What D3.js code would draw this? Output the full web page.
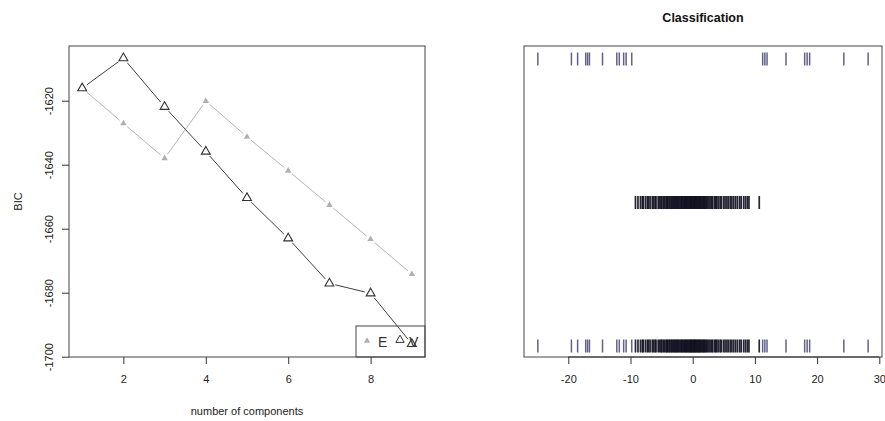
<!DOCTYPE html>
<html>
<head>
<meta charset="utf-8">
<script src="https://cdn.jsdelivr.net/npm/d3@7"></script>
<style>
  html, body { margin: 0; padding: 0; background: #fff; }
  svg { display: block; font-family: "Liberation Sans", Arial, sans-serif; }
</style>
</head>
<body>
<svg id="chart" width="885" height="421"></svg>
<script>
// ---------- data ----------
const components = [1, 2, 3, 4, 5, 6, 7, 8, 9];
const bicE = [-1616.1, -1627.1, -1638.0, -1620.1, -1631.3, -1641.9, -1652.6, -1663.3, -1674.2];
const bicV = [-1616.1, -1606.7, -1621.9, -1635.9, -1650.4, -1663.0, -1677.1, -1680.2, -1696.0];
const bicXTicks = [2, 4, 6, 8];
const bicYTicks = [-1700, -1680, -1660, -1640, -1620];
const legendLabels = ["E", "V"];

const class1Values = [-24.9, -19.5, -18.5, -17.2, -16.9, -16.6, -14.5, -12.2, -11.8, -11.1, -10.7, -9.8,
  11.25, 11.6, 11.95, 15.0, 18.0, 18.4, 18.8, 24.3, 28.2];
const class2Values = [-9.2, -8.8, -8.4, -8.1, -7.95, -7.6, -7.3, -7.1, -6.85, -6.5, -6.3, -6.05, -5.9,
  -5.55, -5.3, -5.1, -4.95, -4.7, -4.55, -4.3, -4.15, -4.0, -3.8, -3.65, -3.45, -3.3, -3.1, -2.95,
  -2.8, -2.6, -2.5, -2.3, -2.15, -1.95, -1.8, -1.7, -1.5, -1.35, -1.2, -1.05, -0.9, -0.75, -0.6,
  -0.45, -0.3, -0.2, -0.05, 0.1, 0.25, 0.35, 0.5, 0.65, 0.8, 0.95, 1.1, 1.2, 1.4, 1.55, 1.7, 1.85,
  2.0, 2.2, 2.35, 2.6, 2.8, 3.05, 3.2, 3.5, 3.7, 3.85, 4.1, 4.4, 4.6, 4.95, 5.2, 5.5, 5.75, 6.05,
  6.3, 6.6, 6.9, 7.2, 7.55, 7.8, 8.2, 8.5, 8.8, 9.05, 10.7];
const classXTicks = [-20, -10, 0, 10, 20, 30];
const classTitle = "Classification";

// ---------- setup ----------
const svg = d3.select("#chart");
const axisCol = "#333";
const fontSize = 11;

// ===== Left panel: BIC =====
const L = { left: 69, right: 425, top: 46, bottom: 357 };
const xL = d3.scaleLinear().domain([0.68, 9.32]).range([L.left, L.right]);
const yL = d3.scaleLinear().domain([-1700, -1620]).range([356.7, 100.7]);

const gL = svg.append("g");

gL.append("rect").attr("x", L.left).attr("y", L.top)
  .attr("width", L.right - L.left).attr("height", L.bottom - L.top)
  .attr("fill", "none").attr("stroke", "#444").attr("stroke-width", 1);

const xAxisL = d3.axisBottom(xL).tickValues(bicXTicks).tickSize(7).tickPadding(11).tickFormat(d3.format("d"));
const gxL = gL.append("g").attr("transform", `translate(0,${L.bottom})`).call(xAxisL);
gxL.select(".domain").remove();
gxL.selectAll("line").attr("stroke", axisCol);
gxL.selectAll("text").attr("font-size", fontSize).attr("fill", "#222")
  .attr("font-family", "Liberation Sans, Arial, sans-serif");

const yAxisL = d3.axisLeft(yL).tickValues(bicYTicks).tickSize(7).tickFormat(d3.format("d"));
const gyL = gL.append("g").attr("transform", `translate(${L.left},0)`).call(yAxisL);
gyL.select(".domain").remove();
gyL.selectAll("line").attr("stroke", axisCol);
gyL.selectAll("text").remove();
gyL.selectAll(".tick").append("text")
  .attr("transform", "translate(-20,0) rotate(-90)")
  .attr("text-anchor", "middle").attr("dy", "0.35em")
  .attr("font-size", fontSize).attr("fill", "#222")
  .attr("font-family", "Liberation Sans, Arial, sans-serif")
  .text(d => d3.format("d")(d).replace("−", "-"));

gL.append("text").attr("x", (L.left + L.right) / 2).attr("y", 415)
  .attr("text-anchor", "middle").attr("font-size", fontSize).attr("fill", "#222")
  .text("number of components");
gL.append("text").attr("transform", `translate(22,${(L.top + L.bottom) / 2}) rotate(-90)`)
  .attr("text-anchor", "middle").attr("font-size", fontSize).attr("fill", "#222")
  .text("BIC");

const lg = gL.append("g");
lg.append("rect").attr("x", 356).attr("y", 326).attr("width", L.right - 356).attr("height", L.bottom - 326)
  .attr("fill", "none").attr("stroke", "#444");

function gappedSegments(vals, gap) {
  const segs = [];
  for (let i = 0; i < vals.length - 1; i++) {
    const x1 = xL(components[i]), y1 = yL(vals[i]);
    const x2 = xL(components[i + 1]), y2 = yL(vals[i + 1]);
    const dx = x2 - x1, dy = y2 - y1, len = Math.hypot(dx, dy);
    if (len <= 2 * gap) continue;
    const ux = dx / len, uy = dy / len;
    segs.push([x1 + ux * gap, y1 + uy * gap, x2 - ux * gap, y2 - uy * gap]);
  }
  return segs;
}

const triUp = d3.symbol().type(d3.symbolTriangle);

// E series
gL.append("g").selectAll("line").data(gappedSegments(bicE, 5)).join("line")
  .attr("x1", d => d[0]).attr("y1", d => d[1]).attr("x2", d => d[2]).attr("y2", d => d[3])
  .attr("stroke", "#b5b5b5").attr("stroke-width", 1);
gL.append("g").selectAll("path").data(bicE.slice(1)).join("path")
  .attr("d", triUp.size(18)())
  .attr("transform", (d, i) => `translate(${xL(components[i + 1])},${yL(d)})`)
  .attr("fill", "#b0b0b0");

// V series
gL.append("g").selectAll("line").data(gappedSegments(bicV, 6)).join("line")
  .attr("x1", d => d[0]).attr("y1", d => d[1]).attr("x2", d => d[2]).attr("y2", d => d[3])
  .attr("stroke", "#404040").attr("stroke-width", 1);
gL.append("g").selectAll("path").data(bicV).join("path")
  .attr("d", triUp.size(34)())
  .attr("transform", (d, i) => `translate(${xL(components[i])},${yL(d)})`)
  .attr("fill", "none").attr("stroke", "#333").attr("stroke-width", 1.1);

lg.append("path").attr("d", triUp.size(18)()).attr("transform", "translate(367,341)").attr("fill", "#b0b0b0");
lg.append("text").attr("x", 378).attr("y", 347).attr("font-size", 14).attr("fill", "#333").text(legendLabels[0]);
lg.append("path").attr("d", triUp.size(30)()).attr("transform", "translate(400,340)")
  .attr("fill", "none").attr("stroke", "#333").attr("stroke-width", 1);
lg.append("text").attr("x", 409).attr("y", 347).attr("font-size", 14).attr("fill", "#333").text(legendLabels[1]);

// ===== Right panel: Classification =====
const R = { left: 524, right: 882, top: 46, bottom: 357 };
const xR = d3.scaleLinear().domain([-20, 30]).range([568.3, 879.3]);
const yR = d3.scaleLinear().domain([0, 2]).range([346, 59]);

const gR = svg.append("g");
gR.append("rect").attr("x", R.left).attr("y", R.top)
  .attr("width", R.right - R.left).attr("height", R.bottom - R.top)
  .attr("fill", "none").attr("stroke", "#444").attr("stroke-width", 1);

const xAxisR = d3.axisBottom(xR).tickValues(classXTicks).tickSize(7).tickPadding(11).tickFormat(d3.format("d"));
const gxR = gR.append("g").attr("transform", `translate(0,${R.bottom})`).call(xAxisR);
gxR.select(".domain").attr("d", `M${xR(-20)},0H${xR(30)}`).attr("stroke", axisCol);
gxR.selectAll("line").attr("stroke", axisCol);
gxR.selectAll("text").attr("font-size", fontSize).attr("fill", "#222")
  .attr("font-family", "Liberation Sans, Arial, sans-serif")
  .text(d => d3.format("d")(d).replace("−", "-"));

gR.append("text").attr("x", (R.left + R.right) / 2).attr("y", 22)
  .attr("text-anchor", "middle").attr("font-size", 12.5).attr("font-weight", "bold").attr("fill", "#111")
  .text(classTitle);

const tickH = 6.5;
function drawRow(vals, level, col, w) {
  gR.append("g").selectAll("line").data(vals).join("line")
    .attr("x1", d => xR(d)).attr("x2", d => xR(d))
    .attr("y1", yR(level) - tickH).attr("y2", yR(level) + tickH)
    .attr("stroke", col).attr("stroke-width", w).attr("stroke-opacity", 0.9);
}
drawRow(class1Values, 2, "#50507e", 1.5);
drawRow(class2Values, 1, "#0c0c1c", 1.7);
drawRow(class1Values, 0, "#50507e", 1.5);
drawRow(class2Values, 0, "#0c0c1c", 1.7);
</script>
</body>
</html>
